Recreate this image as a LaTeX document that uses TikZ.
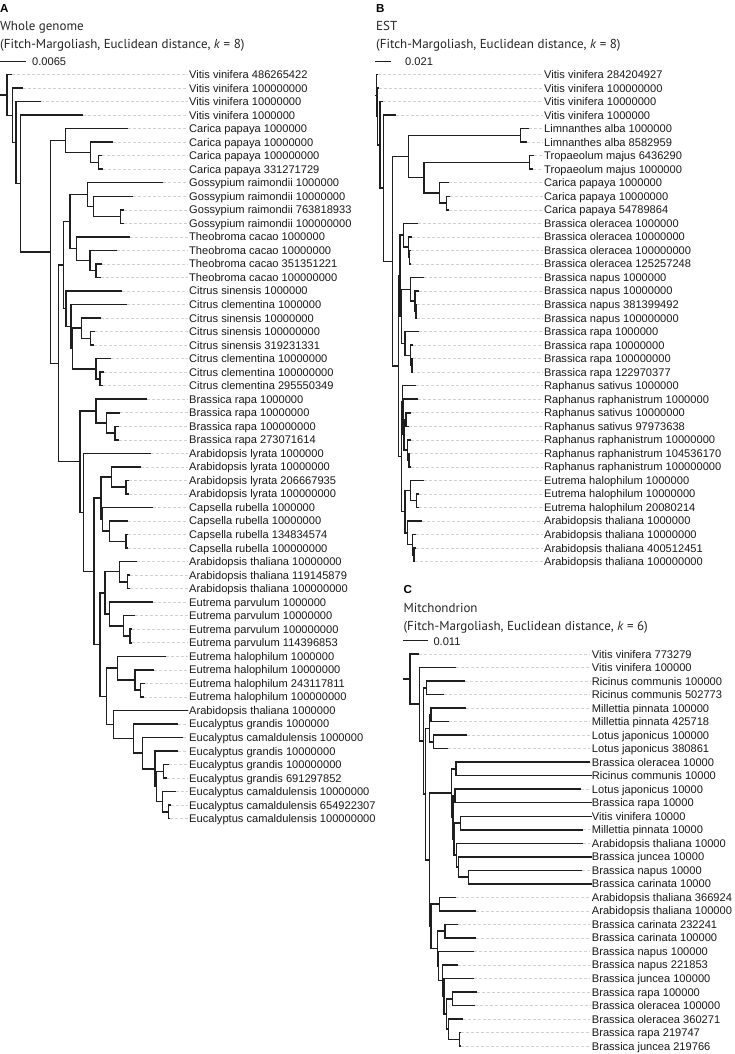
\documentclass[tikz,border=0pt]{standalone}
\usepackage{fontspec}
\setmainfont{Liberation Sans}
\newfontfamily\titlefont{PT Sans}
\usetikzlibrary{calc}
\tikzset{
  br/.style={line width=1.5pt, black!88, line join=miter},
  lead/.style={line width=0.6pt, black!18, dash pattern=on 3pt off 2pt},
  lbl/.style={anchor=base west, inner xsep=1.5pt, inner ysep=0pt, font=\fontsize{11.1}{13}\selectfont, text=black!90},
  ttl/.style={anchor=base west, inner sep=0pt, font=\titlefont\fontsize{13}{15}\selectfont, text=black!85},
  plab/.style={anchor=base west, inner sep=0pt, font=\fontsize{11.6}{13}\selectfont\bfseries},
  sclbl/.style={anchor=base west, inner sep=0pt, font=\fontsize{11.1}{13}\selectfont, text=black!90}
}
\newcommand\mkleaf[5]{%
  \coordinate (#1) at (#3,{#2});
  \node[lbl] (t#1) at (#4,{#2+4}) {#5};
  \draw[lead] (#1) -- (#1 -| t#1.west);}
\newcommand\leafA[4]{\mkleaf{#1}{74.5+(#2-1)*13.53}{#3}{187.5}{#4}}
\newcommand\leafB[4]{\mkleaf{#1}{74.5+(#2-1)*13.53}{#3}{542.5}{#4}}
\newcommand\leafC[4]{\mkleaf{#1}{654+(#2-1)*13.52}{#3}{590.2}{#4}}
\newcommand\inode[4]{%
  \path let \p1=(#3), \p2=(#4) in coordinate (#1) at (#2pt,{0.5*(\y1+\y2)});
  \draw[br] (#3) -| (#1) |- (#4);}
\begin{document}
\begin{tikzpicture}[x=1pt,y=-1pt]
\fill[white] (0,0) rectangle (734,1054);
\useasboundingbox (0,0) rectangle (734,1054);
% ---------------- Panel A
\node[plab] (Alet) at (0,12.3) {A};
\node[ttl] (Atit1) at (0,30.7) {Whole genome};
\node[ttl] (Atit2) at (0,49) {(Fitch-Margoliash, Euclidean distance, \textit{k} = 8)};
\coordinate (As0) at (0,61.7); \coordinate (As1) at (25.7,61.7);
\draw[br] (As0) -- (As1);
\node[sclbl] (Asl) at (32,65.7) {0.0065};
\leafA{Aa1}{1}{12.3}{Vitis vinifera 486265422}
\leafA{Aa2}{2}{23.3}{Vitis vinifera 100000000}
\leafA{Aa3}{3}{40.7}{Vitis vinifera 10000000}
\leafA{Aa4}{4}{82.7}{Vitis vinifera 1000000}
\leafA{Aa5}{5}{128.3}{Carica papaya 1000000}
\leafA{Aa6}{6}{113.3}{Carica papaya 10000000}
\leafA{Aa7}{7}{102.3}{Carica papaya 100000000}
\leafA{Aa8}{8}{103.3}{Carica papaya 331271729}
\leafA{Aa9}{9}{163.3}{Gossypium raimondii 1000000}
\leafA{Aa10}{10}{133.3}{Gossypium raimondii 10000000}
\leafA{Aa11}{11}{124}{Gossypium raimondii 763818933}
\leafA{Aa12}{12}{124}{Gossypium raimondii 100000000}
\leafA{Aa13}{13}{130}{Theobroma cacao 1000000}
\leafA{Aa14}{14}{117.3}{Theobroma cacao 10000000}
\leafA{Aa15}{15}{101.7}{Theobroma cacao 351351221}
\leafA{Aa16}{16}{100.7}{Theobroma cacao 100000000}
\leafA{Aa17}{17}{122}{Citrus sinensis 1000000}
\leafA{Aa18}{18}{127}{Citrus clementina 1000000}
\leafA{Aa19}{19}{100.7}{Citrus sinensis 10000000}
\leafA{Aa20}{20}{95}{Citrus sinensis 100000000}
\leafA{Aa21}{21}{94}{Citrus sinensis 319231331}
\leafA{Aa22}{22}{111}{Citrus clementina 10000000}
\leafA{Aa23}{23}{104}{Citrus clementina 100000000}
\leafA{Aa24}{24}{103}{Citrus clementina 295550349}
\leafA{Aa25}{25}{147.3}{Brassica rapa 1000000}
\leafA{Aa26}{26}{120}{Brassica rapa 10000000}
\leafA{Aa27}{27}{119}{Brassica rapa 100000000}
\leafA{Aa28}{28}{119}{Brassica rapa 273071614}
\leafA{Aa29}{29}{150.7}{Arabidopsis lyrata 1000000}
\leafA{Aa30}{30}{141}{Arabidopsis lyrata 10000000}
\leafA{Aa31}{31}{129.3}{Arabidopsis lyrata 206667935}
\leafA{Aa32}{32}{129}{Arabidopsis lyrata 100000000}
\leafA{Aa33}{33}{152.7}{Capsella rubella 1000000}
\leafA{Aa34}{34}{127.7}{Capsella rubella 10000000}
\leafA{Aa35}{35}{128}{Capsella rubella 134834574}
\leafA{Aa36}{36}{128}{Capsella rubella 100000000}
\leafA{Aa37}{37}{136.7}{Arabidopsis thaliana 10000000}
\leafA{Aa38}{38}{129.7}{Arabidopsis thaliana 119145879}
\leafA{Aa39}{39}{130}{Arabidopsis thaliana 100000000}
\leafA{Aa40}{40}{152.7}{Eutrema parvulum 1000000}
\leafA{Aa41}{41}{135}{Eutrema parvulum 10000000}
\leafA{Aa42}{42}{132.3}{Eutrema parvulum 100000000}
\leafA{Aa43}{43}{131.5}{Eutrema parvulum 114396853}
\leafA{Aa44}{44}{165.7}{Eutrema halophilum 1000000}
\leafA{Aa45}{45}{154.3}{Eutrema halophilum 10000000}
\leafA{Aa46}{46}{145}{Eutrema halophilum 243117811}
\leafA{Aa47}{47}{144}{Eutrema halophilum 100000000}
\leafA{Aa48}{48}{188}{Arabidopsis thaliana 1000000}
\leafA{Aa49}{49}{177.7}{Eucalyptus grandis 1000000}
\leafA{Aa50}{50}{183.3}{Eucalyptus camaldulensis 1000000}
\leafA{Aa51}{51}{178.3}{Eucalyptus grandis 10000000}
\leafA{Aa52}{52}{169.3}{Eucalyptus grandis 100000000}
\leafA{Aa53}{53}{166.7}{Eucalyptus grandis 691297852}
\leafA{Aa54}{54}{175.7}{Eucalyptus camaldulensis 10000000}
\leafA{Aa55}{55}{171}{Eucalyptus camaldulensis 654922307}
\leafA{Aa56}{56}{170}{Eucalyptus camaldulensis 100000000}
\inode{AC78}{98.3}{Aa7}{Aa8}
\inode{AC678}{90.7}{Aa6}{AC78}
\inode{AC5}{65.7}{Aa5}{AC678}
\inode{AG1112}{120.7}{Aa11}{Aa12}
\inode{AG10}{93.3}{Aa10}{AG1112}
\inode{AG9}{87.3}{Aa9}{AG10}
\inode{AT1516}{96}{Aa15}{Aa16}
\inode{AT14}{90}{Aa14}{AT1516}
\inode{AT13}{76.7}{Aa13}{AT14}
\inode{AGT}{70}{AG9}{AT13}
\inode{AC2021}{90.7}{Aa20}{Aa21}
\inode{AC19}{81.7}{Aa19}{AC2021}
\inode{AC2324}{100}{Aa23}{Aa24}
\inode{AC22}{96}{Aa22}{AC2324}
\inode{ACL}{72.7}{AC19}{AC22}
\inode{AC18}{71}{Aa18}{ACL}
\inode{AC17}{66}{Aa17}{AC18}
\inode{AP}{63.3}{AGT}{AC17}
\inode{AB2728}{115}{Aa27}{Aa28}
\inode{AB26}{106.7}{Aa26}{AB2728}
\inode{AB25}{96}{Aa25}{AB26}
\inode{AL3132}{126}{Aa31}{Aa32}
\inode{AL30}{111.7}{Aa30}{AL3132}
\inode{ACR3536}{126}{Aa35}{Aa36}
\inode{ACR34}{109.3}{Aa34}{ACR3536}
\inode{ACR33}{102.5}{Aa33}{ACR34}
\inode{ALC}{101}{AL30}{ACR33}
\inode{AAT3839}{127.7}{Aa38}{Aa39}
\inode{AAT37}{119.3}{Aa37}{AAT3839}
\inode{AEP4243}{130}{Aa42}{Aa43}
\inode{AEP41}{123.3}{Aa41}{AEP4243}
\inode{AEP40}{109.3}{Aa40}{AEP41}
\inode{AATEP}{105}{AAT37}{AEP40}
\inode{AEH4647}{140.7}{Aa46}{Aa47}
\inode{AEH45}{135}{Aa45}{AEH4647}
\inode{AEH44}{117.3}{Aa44}{AEH45}
\inode{AEG5253}{163.3}{Aa52}{Aa53}
\inode{AEC5556}{168.3}{Aa55}{Aa56}
\inode{AEC54}{162.3}{Aa54}{AEC5556}
\inode{AEGEC}{156.7}{AEG5253}{AEC54}
\inode{AE51}{155}{Aa51}{AEGEC}
\inode{AE50}{142.7}{Aa50}{AE51}
\inode{AE49}{133.3}{Aa49}{AE50}
\inode{AE}{113.3}{Aa48}{AE49}
\inode{AR4}{106.7}{AEH44}{AE}
\inode{AR3}{100}{AATEP}{AR4}
\inode{AR2}{94}{ALC}{AR3}
\inode{AR1}{83.3}{Aa29}{AR2}
\inode{ABA}{80}{AB25}{AR1}
\inode{AM}{58.3}{AP}{ABA}
\inode{An5}{50.7}{AC5}{AM}
\inode{An4}{20.7}{Aa4}{An5}
\inode{An3}{16}{Aa3}{An4}
\inode{An2}{12.7}{Aa2}{An3}
\inode{Ar}{7}{Aa1}{An2}
\coordinate (A0) at ($(Ar)+(-7,0)$);
\draw[br] (A0) -- (Ar);
% ---------------- Panel B
\node[plab] (Blet) at (376,12.3) {B};
\node[ttl] (Btit1) at (376,30.7) {EST};
\node[ttl] (Btit2) at (376,49) {(Fitch-Margoliash, Euclidean distance, \textit{k} = 8)};
\coordinate (Bs0) at (375,61.7); \coordinate (Bs1) at (390.7,61.7);
\draw[br] (Bs0) -- (Bs1);
\node[sclbl] (Bsl) at (405,65.7) {0.021};
\leafB{Bb1}{1}{378.3}{Vitis vinifera 284204927}
\leafB{Bb2}{2}{378.8}{Vitis vinifera 100000000}
\leafB{Bb3}{3}{382.7}{Vitis vinifera 10000000}
\leafB{Bb4}{4}{395.7}{Vitis vinifera 1000000}
\leafB{Bb5}{5}{529}{Limnanthes alba 1000000}
\leafB{Bb6}{6}{527}{Limnanthes alba 8582959}
\leafB{Bb7}{7}{534}{Tropaeolum majus 6436290}
\leafB{Bb8}{8}{533}{Tropaeolum majus 1000000}
\leafB{Bb9}{9}{449}{Carica papaya 1000000}
\leafB{Bb10}{10}{450}{Carica papaya 10000000}
\leafB{Bb11}{11}{449.3}{Carica papaya 54789864}
\leafB{Bb12}{12}{417.7}{Brassica oleracea 1000000}
\leafB{Bb13}{13}{411.7}{Brassica oleracea 10000000}
\leafB{Bb14}{14}{410.7}{Brassica oleracea 100000000}
\leafB{Bb15}{15}{410.7}{Brassica oleracea 125257248}
\leafB{Bb16}{16}{424}{Brassica napus 1000000}
\leafB{Bb17}{17}{419.3}{Brassica napus 10000000}
\leafB{Bb18}{18}{417}{Brassica napus 381399492}
\leafB{Bb19}{19}{417.3}{Brassica napus 100000000}
\leafB{Bb20}{20}{419.3}{Brassica rapa 1000000}
\leafB{Bb21}{21}{413.3}{Brassica rapa 10000000}
\leafB{Bb22}{22}{412.7}{Brassica rapa 100000000}
\leafB{Bb23}{23}{412.3}{Brassica rapa 122970377}
\leafB{Bb24}{24}{416}{Raphanus sativus 1000000}
\leafB{Bb25}{25}{417.7}{Raphanus raphanistrum 1000000}
\leafB{Bb26}{26}{410.7}{Raphanus sativus 10000000}
\leafB{Bb27}{27}{409.3}{Raphanus sativus 97973638}
\leafB{Bb28}{28}{411}{Raphanus raphanistrum 10000000}
\leafB{Bb29}{29}{410}{Raphanus raphanistrum 104536170}
\leafB{Bb30}{30}{410.7}{Raphanus raphanistrum 100000000}
\leafB{Bb31}{31}{424}{Eutrema halophilum 1000000}
\leafB{Bb32}{32}{419.3}{Eutrema halophilum 10000000}
\leafB{Bb33}{33}{419.3}{Eutrema halophilum 20080214}
\leafB{Bb34}{34}{421.7}{Arabidopsis thaliana 1000000}
\leafB{Bb35}{35}{416}{Arabidopsis thaliana 10000000}
\leafB{Bb36}{36}{415.7}{Arabidopsis thaliana 400512451}
\leafB{Bb37}{37}{415}{Arabidopsis thaliana 100000000}
\inode{BLi}{520.7}{Bb5}{Bb6}
\inode{BTr}{529.3}{Bb7}{Bb8}
\inode{BCa1011}{446.7}{Bb10}{Bb11}
\inode{BCa9}{439.3}{Bb9}{BCa1011}
\inode{BTC}{424}{BTr}{BCa9}
\inode{BLTC}{408.3}{BLi}{BTC}
\inode{BO1415}{409.7}{Bb14}{Bb15}
\inode{BO13}{408.3}{Bb13}{BO1415}
\inode{BO12}{403.3}{Bb12}{BO13}
\inode{BN1819}{416}{Bb18}{Bb19}
\inode{BN17}{415}{Bb17}{BN1819}
\inode{BN16}{410.7}{Bb16}{BN17}
\inode{BR2223}{412}{Bb22}{Bb23}
\inode{BR21}{410.7}{Bb21}{BR2223}
\inode{BR20}{405}{Bb20}{BR21}
\inode{BNR}{401.5}{BN16}{BR20}
\inode{BO}{400}{BO12}{BNR}
\inode{BS2627}{406}{Bb26}{Bb27}
\inode{BRR2930}{409}{Bb29}{Bb30}
\inode{BRR28}{407.7}{Bb28}{BRR2930}
\inode{BRY}{404}{BS2627}{BRR28}
\inode{BQ}{402.8}{Bb25}{BRY}
\inode{BP}{402.3}{Bb24}{BQ}
\inode{BEH3233}{416.7}{Bb32}{Bb33}
\inode{BEH31}{410.7}{Bb31}{BEH3233}
\inode{BAT3637}{414}{Bb36}{Bb37}
\inode{BAT35}{412.3}{Bb35}{BAT3637}
\inode{BAT34}{407.7}{Bb34}{BAT35}
\inode{BEA}{405}{BEH31}{BAT34}
\inode{BW}{401.7}{BP}{BEA}
\inode{BBra}{398.3}{BO}{BW}
\inode{Bn5}{392.7}{BLTC}{BBra}
\inode{Bn4}{383.3}{Bb4}{Bn5}
\inode{Bn3}{380}{Bb3}{Bn4}
\inode{Bn2}{377.3}{Bb2}{Bn3}
\inode{Br}{376.3}{Bb1}{Bn2}
\coordinate (B0) at ($(Br)+(-1.5,0)$);
\draw[br] (B0) -- (Br);
% ---------------- Panel C
\node[plab] (Clet) at (403.3,593.5) {C};
\node[ttl] (Ctit1) at (403.3,612.3) {Mitchondrion};
\node[ttl] (Ctit2) at (403.3,630.5) {(Fitch-Margoliash, Euclidean distance, \textit{k} = 6)};
\coordinate (Cs0) at (403.3,640.5); \coordinate (Cs1) at (428.3,640.5);
\draw[br] (Cs0) -- (Cs1);
\node[sclbl] (Csl) at (433.3,645) {0.011};
\leafC{Cc1}{1}{419.3}{Vitis vinifera 773279}
\leafC{Cc2}{2}{456}{Vitis vinifera 100000}
\leafC{Cc3}{3}{465}{Ricinus communis 100000}
\leafC{Cc4}{4}{444}{Ricinus communis 502773}
\leafC{Cc5}{5}{466}{Millettia pinnata 100000}
\leafC{Cc6}{6}{449}{Millettia pinnata 425718}
\leafC{Cc7}{7}{466.7}{Lotus japonicus 100000}
\leafC{Cc8}{8}{448.3}{Lotus japonicus 380861}
\leafC{Cc9}{9}{590}{Brassica oleracea 10000}
\leafC{Cc10}{10}{591.5}{Ricinus communis 10000}
\leafC{Cc11}{11}{580.7}{Lotus japonicus 10000}
\leafC{Cc12}{12}{591.5}{Brassica rapa 10000}
\leafC{Cc13}{13}{591.5}{Vitis vinifera 10000}
\leafC{Cc14}{14}{582.7}{Millettia pinnata 10000}
\leafC{Cc15}{15}{582.7}{Arabidopsis thaliana 10000}
\leafC{Cc16}{16}{591.5}{Brassica juncea 10000}
\leafC{Cc17}{17}{581.7}{Brassica napus 10000}
\leafC{Cc18}{18}{591.5}{Brassica carinata 10000}
\leafC{Cc19}{19}{456}{Arabidopsis thaliana 366924}
\leafC{Cc20}{20}{476}{Arabidopsis thaliana 100000}
\leafC{Cc21}{21}{458.3}{Brassica carinata 232241}
\leafC{Cc22}{22}{476}{Brassica carinata 100000}
\leafC{Cc23}{23}{474}{Brassica napus 100000}
\leafC{Cc24}{24}{458.3}{Brassica napus 221853}
\leafC{Cc25}{25}{474}{Brassica juncea 100000}
\leafC{Cc26}{26}{477.3}{Brassica rapa 100000}
\leafC{Cc27}{27}{475}{Brassica oleracea 100000}
\leafC{Cc28}{28}{463.3}{Brassica oleracea 360271}
\leafC{Cc29}{29}{460.7}{Brassica rapa 219747}
\leafC{Cc30}{30}{460.7}{Brassica juncea 219766}
\inode{CRic}{426.5}{Cc3}{Cc4}
\inode{CMil}{431}{Cc5}{Cc6}
\inode{CLot}{433.3}{Cc7}{Cc8}
\inode{CML}{429.3}{CMil}{CLot}
\inode{COR}{456}{Cc9}{Cc10}
\inode{CP1112}{455}{Cc11}{Cc12}
\inode{CVM}{460.7}{Cc13}{Cc14}
\inode{CNC}{468.3}{Cc17}{Cc18}
\inode{CJNC}{458.3}{Cc16}{CNC}
\inode{CAJ}{456.5}{Cc15}{CJNC}
\inode{CG3}{454}{CVM}{CAJ}
\inode{CG2}{453}{CP1112}{CG3}
\inode{CG1}{451.7}{COR}{CG2}
\inode{CAT}{439.3}{Cc19}{Cc20}
\inode{CBC}{445}{Cc21}{Cc22}
\inode{CRO}{452.7}{Cc26}{Cc27}
\inode{CRJ}{459.3}{Cc29}{Cc30}
\inode{CO28}{448.3}{Cc28}{CRJ}
\inode{CL6}{446.7}{CRO}{CO28}
\inode{CL5}{444}{Cc25}{CL6}
\inode{CL4}{442.7}{Cc24}{CL5}
\inode{CL3}{438.3}{Cc23}{CL4}
\inode{CL2}{437.3}{CBC}{CL3}
\inode{CL1}{431}{CAT}{CL2}
\inode{CH}{429.3}{CG1}{CL1}
\inode{CB2}{425.3}{CML}{CH}
\inode{CB}{423.3}{CRic}{CB2}
\inode{CA}{419.3}{Cc2}{CB}
\inode{Cr}{410}{Cc1}{CA}
\coordinate (C0) at ($(Cr)+(-6.7,0)$);
\draw[br] (C0) -- (Cr);
\end{tikzpicture}
\end{document}
